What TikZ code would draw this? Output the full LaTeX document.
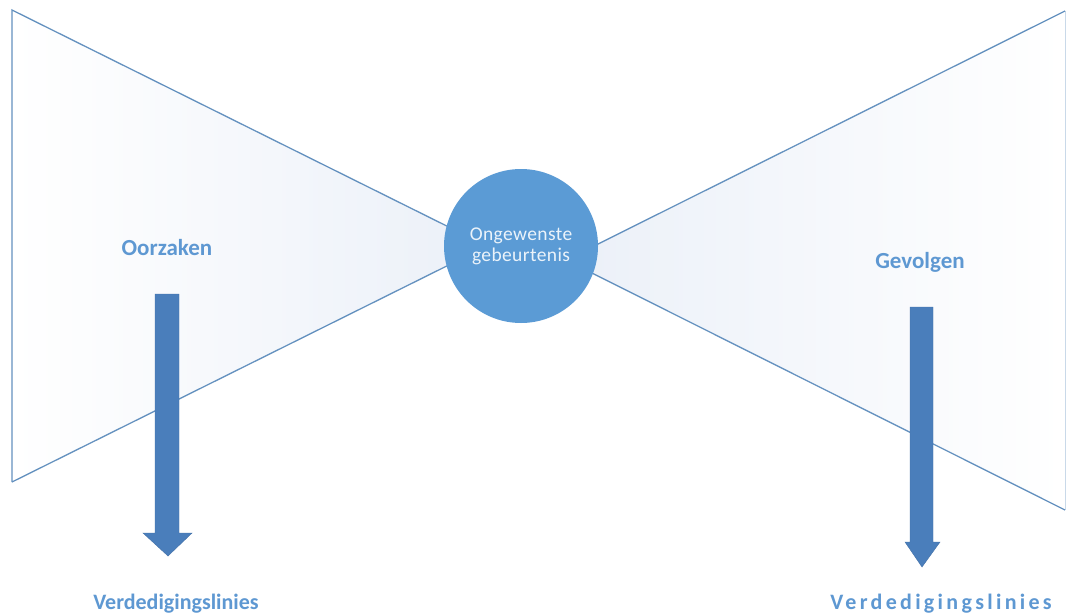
\documentclass[tikz,border=0pt]{standalone}
\usepackage{fontspec}
\setmainfont{Carlito}
\definecolor{triedge}{HTML}{6491BF}
\definecolor{trifill}{HTML}{EBF0F8}
\definecolor{circ}{HTML}{5B9BD5}
\definecolor{arrowc}{HTML}{4A7EBB}
\definecolor{labelc}{HTML}{5E98D2}
\tikzset{
  edge/.style={draw=triedge, line width=1.3pt, line join=miter},
  farEdge/.style={draw=triedge!35, line width=1pt},
  bigarrow/.style={fill=arrowc, draw=arrowc!90!black, line width=0.4pt},
  heading/.style={text=labelc, font=\bfseries\fontsize{23}{27}\selectfont, inner sep=0pt},
}
\begin{document}
\begin{tikzpicture}[x=1pt,y=-1pt]
\useasboundingbox (0,0) rectangle (1067,613);
\fill[white] (0,0) rectangle (1067,613);
% left triangle
\coordinate (LT) at (12,10);
\coordinate (LB) at (12,482);
\coordinate (LA) at (487,246);
\shade[left color=white, right color=trifill] (LT) -- (LA) -- (LB) -- cycle;
\draw[edge] (LB) -- (LT) -- (LA) -- (LB);
% right triangle
\coordinate (RT) at (1065,11);
\coordinate (RB) at (1065,510);
\coordinate (RA) at (566,260);
\shade[left color=trifill, right color=white] (RT) -- (RA) -- (RB) -- cycle;
\draw[farEdge] (RT) -- (RB);
\draw[edge] (RT) -- (RA) -- (RB);
% central event
\node[circle, fill=circ, minimum size=154pt, inner sep=0pt, text=white!88!circ,
      font=\fontsize{19.5}{21}\selectfont\addfontfeature{LetterSpace=2}, align=center]
      (evt) at (521,246) {Ongewenste\\gebeurtenis};
% arrows
\fill[bigarrow] (155,294) -- (179,294) -- (179,533) -- (192,533) -- (168,556) -- (143,533) -- (155,533) -- cycle;
\fill[bigarrow] (910,307) -- (933,307) -- (933,542) -- (940,542) -- (922,567) -- (905,542) -- (910,542) -- cycle;
% labels
\node[heading] (oorz) at (167,248) {Oorzaken};
\node[heading] (gev) at (920,262) {Gevolgen};
\node[heading, anchor=base, font=\bfseries\fontsize{22}{26}\selectfont] (vl) at (176,609) {Verdedigingslinies};
\node[heading, anchor=base, font=\bfseries\fontsize{22}{26}\selectfont\addfontfeature{LetterSpace=15}] (vr) at (941,609) {Verdedigingslinies};
\end{tikzpicture}
\end{document}
